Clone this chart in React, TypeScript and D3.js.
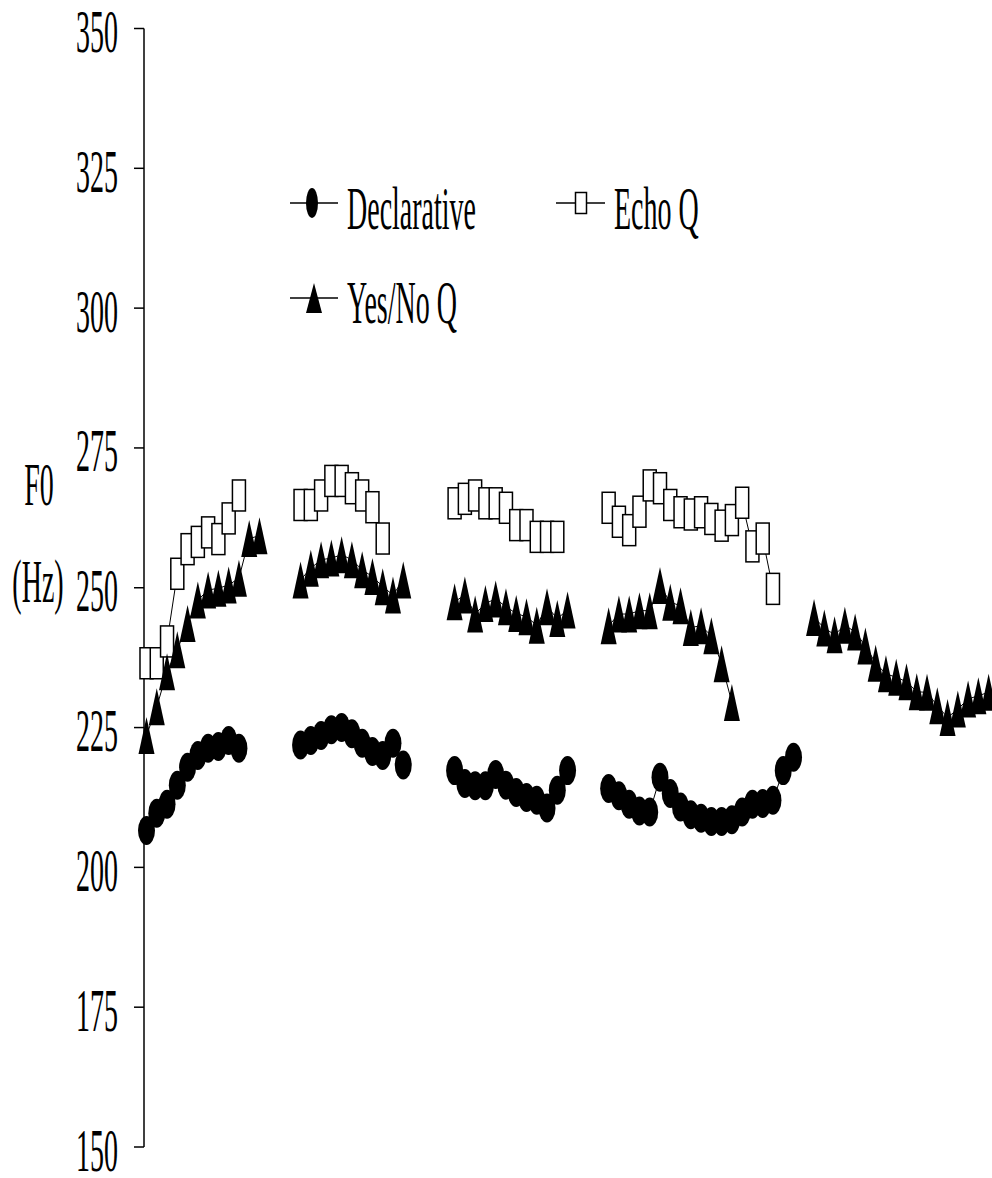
import React from "react";
import * as d3 from "d3";

const yTicks = [150, 175, 200, 225, 250, 275, 300, 325, 350];
const frameCount = 83;

const declarative: (number | null)[] = [
  206.6, 209.7, 211.3, 214.7, 217.9, 220.0, 221.3, 221.6, 222.7, 221.3,
  null, null, null, null, null,
  221.9, 222.7, 223.6, 224.6, 225.0, 223.9, 222.2, 220.7, 220.0, 222.2, 218.3,
  null, null, null, null,
  217.3, 215.0, 214.6, 214.6, 216.6, 214.7, 213.4, 212.5, 212.0, 210.6, 213.8, 217.3,
  null, null, null,
  214.1, 212.8, 211.3, 210.1, 209.9, 216.1, 213.2, 210.8, 209.4, 208.8, 208.2, 208.2, 208.5, 209.9, 211.3, 211.4, 212.0, 217.3, 219.7,
  null, null, null, null, null, null, null, null, null, null, null, null, null, null, null, null, null, null, null,
];

const echoQ: (number | null)[] = [
  236.5, 236.5, 240.4, 252.5, 256.9, 258.2, 259.9, 258.7, 262.4, 266.5,
  null, null, null, null, null,
  264.8, 264.8, 266.5, 269.1, 269.1, 267.8, 266.5, 264.4, 258.8,
  null, null, null, null, null, null,
  265.1, 265.9, 266.5, 265.1, 265.1, 264.3, 261.2, 261.2, 259.1, 259.1, 259.1,
  null, null, null, null,
  264.3, 261.8, 260.3, 263.6, 268.3, 267.8, 264.8, 263.5, 263.1, 263.5, 262.3, 261.1, 262.1, 265.2, 257.4, 258.8, 249.8,
  null, null, null, null, null, null, null, null, null, null, null, null, null, null, null, null, null, null, null, null, null,
];

const yesNoQ: (number | null)[] = [
  223.6, 228.7, 235.0, 238.9, 243.6, 247.8, 249.6, 249.9, 250.5, 251.7, 258.8, 259.3,
  null, null, null,
  251.4, 253.5, 255.0, 255.3, 255.9, 255.0, 253.2, 252.0, 250.2, 248.7, 251.4,
  null, null, null, null,
  247.5, 248.7, 245.3, 247.2, 248.0, 246.6, 245.4, 244.8, 243.3, 246.6, 244.5, 246.0,
  null, null, null,
  243.2, 245.3, 245.3, 245.9, 245.9, 250.4, 247.4, 246.8, 242.9, 243.2, 241.4, 236.4, 229.5,
  null, null, null, null, null, null, null,
  244.7, 242.8, 241.6, 243.3, 242.1, 239.6, 236.5, 234.6, 234.0, 233.2, 231.4, 231.3, 228.9, 226.8, 228.3, 230.1, 230.7, 231.3,
];

const seriesNames = ["Declarative", "Echo Q", "Yes/No Q"];

const FONT = "'Liberation Serif', 'Times New Roman', serif";
const SY = 2.2;
const FS = 28;

function T({ x, y, anchor = "start", children }: any) {
  return (
    <text
      transform={`translate(${x},${y}) scale(1,${SY})`}
      fontSize={FS}
      fontFamily={FONT}
      textAnchor={anchor}
      fill="#000"
    >
      {children}
    </text>
  );
}

const SQ_W = 13, SQ_H = 31;
const TRI_W = 16, TRI_H = 37;
const CIR_RX = 8.5, CIR_RY = 14.5;

function Square({ cx, cy, w = SQ_W, h = SQ_H }: any) {
  return <rect x={cx - w / 2} y={cy - h / 2} width={w} height={h} fill="#fff" stroke="#000" strokeWidth={1.5} />;
}
function Tri({ cx, cy, w = TRI_W, h = TRI_H }: any) {
  return <path d={`M${cx},${cy - h / 2}L${cx + w / 2},${cy + h / 2}L${cx - w / 2},${cy + h / 2}Z`} fill="#000" />;
}
function Dot({ cx, cy, rx = CIR_RX, ry = CIR_RY }: any) {
  return <ellipse cx={cx} cy={cy} rx={rx} ry={ry} fill="#000" />;
}

export default function App() {
  const frames = d3.range(frameCount);
  const x = d3.scaleLinear().domain([0, frameCount - 1]).range([146.5, 146.5 + (frameCount - 1) * 10.27]);
  const y = d3.scaleLinear().domain([150, 350]).range([1147, 28.5]);
  const axisX = 144;

  const line = d3
    .line<number | null>()
    .defined((d) => d != null)
    .x((_, i) => x(frames[i]))
    .y((d) => y(d as number));

  const pts = (arr: (number | null)[]) =>
    arr.map((v, i) => (v == null ? null : { cx: x(frames[i]), cy: y(v), i })).filter(Boolean) as any[];

  return (
    <svg width={992} height={1178} style={{ position: "absolute", left: 0, top: 0, display: "block" }}>
      <rect width={992} height={1178} fill="#fff" />
      {/* y axis */}
      <line x1={axisX} x2={axisX} y1={y(350)} y2={y(150)} stroke="#000" strokeWidth={1.5} />
      {yTicks.map((t) => (
        <g key={t}>
          <line x1={axisX - 10} x2={axisX} y1={y(t)} y2={y(t)} stroke="#000" strokeWidth={1.5} />
          <T x={118} y={y(t) + 23.5} anchor="end">{t}</T>
        </g>
      ))}
      <T x={39} y={505} anchor="middle">F0</T>
      <T x={38} y={602} anchor="middle">(Hz)</T>

      {/* series lines */}
      <path d={line(declarative) || ""} fill="none" stroke="#000" strokeWidth={1} />
      <path d={line(echoQ) || ""} fill="none" stroke="#000" strokeWidth={1} />
      <path d={line(yesNoQ) || ""} fill="none" stroke="#000" strokeWidth={1} />

      {pts(declarative).map((p) => <Dot key={"d" + p.i} cx={p.cx} cy={p.cy} />)}
      {pts(echoQ).map((p) => <Square key={"e" + p.i} cx={p.cx} cy={p.cy} />)}
      {pts(yesNoQ).map((p) => <Tri key={"y" + p.i} cx={p.cx} cy={p.cy} />)}

      {/* legend */}
      <g>
        <line x1={290} x2={338} y1={203} y2={203} stroke="#000" strokeWidth={1.5} />
        <Dot cx={312} cy={203} rx={6} ry={15} />
        <T x={347} y={229}>{seriesNames[0]}</T>

        <line x1={556} x2={605} y1={203} y2={203} stroke="#000" strokeWidth={1.5} />
        <Square cx={581} cy={203} w={11} h={21} />
        <T x={614} y={229}>{seriesNames[1]}</T>

        <line x1={290} x2={338} y1={298} y2={298} stroke="#000" strokeWidth={1.5} />
        <Tri cx={314} cy={298} w={16} h={30} />
        <T x={347} y={323}>{seriesNames[2]}</T>
      </g>
    </svg>
  );
}
